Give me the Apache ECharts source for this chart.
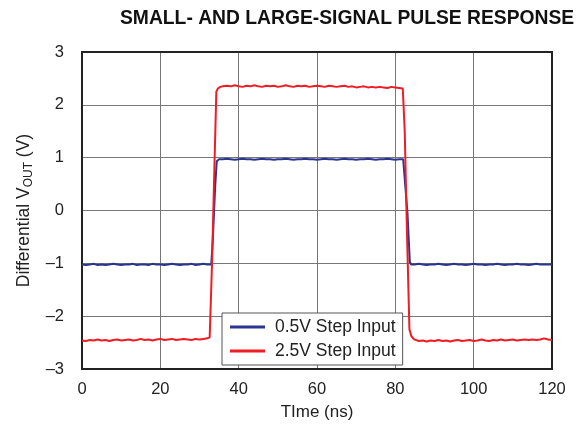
<!DOCTYPE html>
<html>
<head>
<meta charset="utf-8">
<script src="https://cdn.jsdelivr.net/npm/echarts@6/dist/echarts.min.js"></script>
<style>html,body{margin:0;padding:0;background:#fff;}#c{width:582px;height:426px;}</style>
</head>
<body>
<div id="c"></div>
<script>
const titleText = 'SMALL- AND LARGE-SIGNAL PULSE RESPONSE';
const seriesNames = ['0.5V Step Input', '2.5V Step Input'];
const xTicks = { min: 0, max: 120, interval: 20 };
const yTicks = { min: -3, max: 3, interval: 1 };

// 0.5V step: time (ns) and differential output (V)
const blueTime = [
  0,1,2,3,4,5,6,7,8,9,10,11,12,13,14,15,16,17,18,19,20,21,22,23,24,25,26,27,28,29,30,31,32,33,
  33.4,34,34.4,35,
  36,37,38,39,40,41,42,43,44,45,46,47,48,49,50,51,52,53,54,55,56,57,58,59,60,61,62,63,64,65,66,67,68,69,70,71,72,73,74,75,76,77,78,79,80,81,82,
  82.5,83.1,83.7,84,
  85,86,87,88,89,90,91,92,93,94,95,96,97,98,99,100,101,102,103,104,105,106,107,108,109,110,111,112,113,114,115,116,117,118,119,120
];
const blueVolt = [
  -1.02,-1.03,-1.02,-1.01,-1.03,-1.02,-1.03,-1.02,-1.01,-1.02,
  -1.03,-1.02,-1.02,-1.01,-1.03,-1.02,-1.02,-1.03,-1.01,-1.02,
  -1.02,-1.03,-1.02,-1.01,-1.02,-1.03,-1.02,-1.02,-1.01,-1.03,
  -1.02,-1.01,-1.02,-1.02,
  -0.55,0.45,0.93,0.97,
  0.97,0.98,0.97,0.96,0.97,0.98,0.97,0.97,0.96,0.97,
  0.98,0.97,0.97,0.96,0.97,0.97,0.98,0.97,0.96,0.97,
  0.97,0.98,0.97,0.97,0.96,0.97,0.98,0.97,0.97,0.96,
  0.97,0.98,0.97,0.97,0.96,0.97,0.97,0.98,0.97,0.96,
  0.97,0.97,0.98,0.97,0.96,0.97,0.97,
  0.95,-0.05,-0.97,-1.02,
  -1.02,-1.01,-1.02,-1.03,-1.02,-1.02,-1.01,-1.02,-1.03,-1.02,
  -1.01,-1.02,-1.02,-1.03,-1.02,-1.01,-1.02,-1.02,-1.03,-1.02,
  -1.02,-1.01,-1.02,-1.03,-1.02,-1.02,-1.01,-1.02,-1.02,-1.03,
  -1.02,-1.01,-1.02,-1.02,-1.02,-1.02
];

// 2.5V step: time (ns) and differential output (V)
const redTime = [
  0,1,2,3,4,5,6,7,8,9,10,11,12,13,14,15,16,17,18,19,20,21,22,23,24,25,26,27,28,29,30,31,32,
  32.6,33.2,33.8,34.3,34.7,35.3,
  36,37,38,39,40,41,42,43,44,45,46,47,48,49,50,51,52,53,54,55,56,57,58,59,60,61,62,63,64,65,66,67,68,69,70,71,72,73,74,75,76,77,78,79,80,81,
  81.9,82.4,83.0,83.6,84.1,84.8,
  85,86,87,88,89,90,91,92,93,94,95,96,97,98,99,100,101,102,103,104,105,106,107,108,109,110,111,112,113,114,115,116,117,118,119,120
];
const redVolt = [
  -2.46,-2.47,-2.45,-2.46,-2.44,-2.46,-2.45,-2.47,-2.45,-2.44,
  -2.46,-2.45,-2.44,-2.46,-2.45,-2.43,-2.45,-2.44,-2.46,-2.44,
  -2.43,-2.45,-2.44,-2.43,-2.45,-2.44,-2.43,-2.44,-2.45,-2.43,
  -2.44,-2.43,-2.42,
  -2.40,-1.0,0.8,2.25,2.31,2.34,
  2.35,2.36,2.35,2.37,2.35,2.34,2.36,2.35,2.37,2.35,
  2.34,2.36,2.35,2.36,2.34,2.35,2.37,2.35,2.34,2.36,
  2.35,2.36,2.34,2.35,2.36,2.35,2.34,2.36,2.35,2.34,
  2.35,2.36,2.34,2.35,2.33,2.34,2.35,2.33,2.34,2.33,
  2.34,2.33,2.32,2.34,2.33,2.32,
  2.31,1.5,-0.5,-2.25,-2.38,-2.44,
  -2.46,-2.47,-2.46,-2.48,-2.46,-2.47,-2.45,-2.47,-2.46,-2.48,
  -2.46,-2.45,-2.47,-2.46,-2.45,-2.47,-2.46,-2.44,-2.46,-2.47,
  -2.45,-2.46,-2.44,-2.46,-2.45,-2.44,-2.46,-2.45,-2.44,-2.45,
  -2.44,-2.45,-2.44,-2.42,-2.44,-2.45
];

function pairs(t, v) { return t.map((x, i) => [x, v[i]]); }

const chart = echarts.init(document.getElementById('c'), null, { renderer: 'canvas' });
const font = 'Liberation Sans, Arial, Helvetica, sans-serif';
chart.setOption({
  animation: false,
  backgroundColor: '#fff',
  title: {
    text: titleText, left: 115, top: 4,
    textStyle: { fontFamily: font, fontSize: 19.3, fontWeight: 'bold', color: '#111' }
  },
  grid: { left: 82, right: 30, top: 52, bottom: 54, show: true, borderColor: '#222', borderWidth: 2, backgroundColor: 'transparent', z: 3 },
  legend: {
    orient: 'vertical', left: 222, top: 313,
    backgroundColor: '#fff', borderColor: '#555', borderWidth: 1,
    padding: [5, 7, 5, 8], itemGap: 6, itemWidth: 35, itemHeight: 3,
    icon: 'rect',
    textStyle: { fontFamily: font, fontSize: 17.5, color: '#222', padding: [0, 0, 0, 5] },
    data: seriesNames
  },
  xAxis: {
    type: 'value', min: xTicks.min, max: xTicks.max, interval: xTicks.interval,
    name: 'TIme (ns)', nameLocation: 'middle', nameGap: 35,
    nameTextStyle: { fontFamily: font, fontSize: 17, color: '#222' },
    axisLine: { show: false }, axisTick: { show: false },
    axisLabel: { margin: 12, fontFamily: font, fontSize: 16.5, color: '#222' },
    splitLine: { show: true, lineStyle: { color: '#777', width: 1 } }
  },
  yAxis: {
    type: 'value', min: yTicks.min, max: yTicks.max, interval: yTicks.interval,
    name: '{a|Differential V}{s|OUT}{a| (V)}', nameLocation: 'middle', nameGap: 44, nameRotate: 90,
    nameTextStyle: {
      fontFamily: font, fontSize: 17.5, color: '#222',
      rich: {
        a: { fontFamily: font, fontSize: 17.5, color: '#222', lineHeight: 22 },
        s: { fontFamily: font, fontSize: 12, color: '#222', lineHeight: 22, verticalAlign: 'bottom' }
      }
    },
    axisLine: { show: false }, axisTick: { show: false },
    axisLabel: {
      margin: 18, fontFamily: font, fontSize: 16.5, color: '#222',
      formatter: v => (v < 0 ? '\u2013' + Math.abs(v) : String(v))
    },
    splitLine: { show: true, lineStyle: { color: '#777', width: 1 } }
  },
  series: [
    {
      name: seriesNames[0], type: 'line', data: pairs(blueTime, blueVolt),
      showSymbol: false, symbol: 'none', color: '#2b3590',
      lineStyle: { width: 2, color: '#2b3590' }, z: 4
    },
    {
      name: seriesNames[1], type: 'line', data: pairs(redTime, redVolt),
      showSymbol: false, symbol: 'none', color: '#ee1d24',
      lineStyle: { width: 2, color: '#ee1d24' }, z: 5
    }
  ]
});
</script>
</body>
</html>
